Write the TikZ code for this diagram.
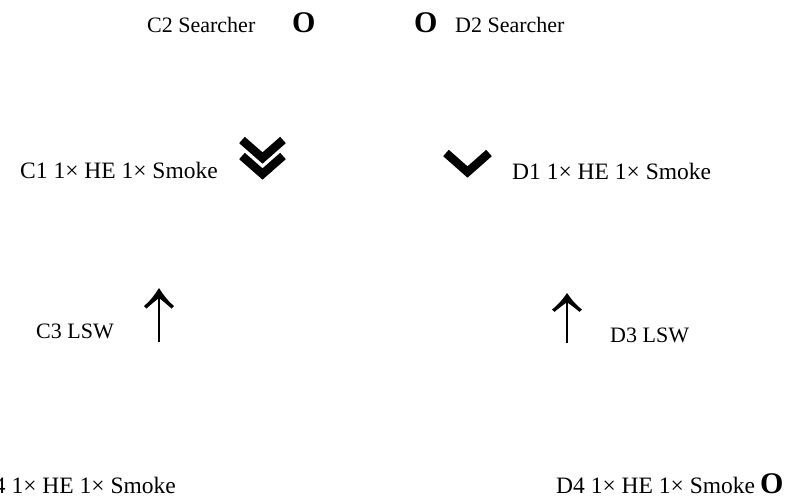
\documentclass[tikz,border=0pt]{standalone}
\usepackage{fontspec}
\setmainfont{Liberation Serif}
\begin{document}
\begin{tikzpicture}[x=1pt,y=-1pt,
  lbl/.style={anchor=base west,inner sep=0pt,font=\fontsize{23.5}{24}\selectfont},
  slbl/.style={anchor=base west,inner sep=0pt,font=\fontsize{22}{22}\selectfont},
  bigo/.style={anchor=base west,inner sep=0pt,font=\fontsize{30}{30}\selectfont\bfseries},
  chev/.style={line width=8.5pt,miter limit=10},
  shaft/.style={line width=2.4pt},
  uparrow/.pic={
    \draw[shaft] (0,54) -- (0,8);
    \fill (0,0) .. controls (-5,8) and (-10,14) .. (-15,18) -- (-12.5,20.5)
      .. controls (-8,16.5) and (-4,13) .. (0,10)
      .. controls (4,13) and (8,16.5) .. (12.5,20.5) -- (15,18)
      .. controls (10,14) and (5,8) .. (0,0) -- cycle;
  }]
\useasboundingbox (0,0) rectangle (810,500);
\clip (0,0) rectangle (810,500);
% top row
\node[slbl] (c2) at (147,33) {C2 Searcher};
\node[bigo] (c2o) at (292,33) {O};
\node[bigo] (d2o) at (414,33) {O};
\node[slbl] (d2) at (455,33) {D2 Searcher};
% second row
\node[lbl] (c1) at (20,178) {C1 1× HE 1× Smoke};
\draw[chev] (242,140) -- (262.5,158) -- (283,140);
\draw[chev] (242,156) -- (262.5,174) -- (283,156);
\draw[chev] (446,153) -- (467.5,172) -- (489,153);
\node[lbl] (d1) at (512,179) {D1 1× HE 1× Smoke};
% third row
\node[slbl] (c3) at (36,338) {C3 LSW};
\pic at (159,288) {uparrow};
\pic[yscale=0.92] at (567,293) {uparrow};
\node[slbl] (d3) at (610,342) {D3 LSW};
% bottom row
\node[lbl,anchor=base east] (c4) at (176,493) {C4 1× HE 1× Smoke};
\node[lbl] (d4) at (556,493) {D4 1× HE 1× Smoke};
\node[bigo] (d4o) at (760,493) {O};
\end{tikzpicture}
\end{document}
